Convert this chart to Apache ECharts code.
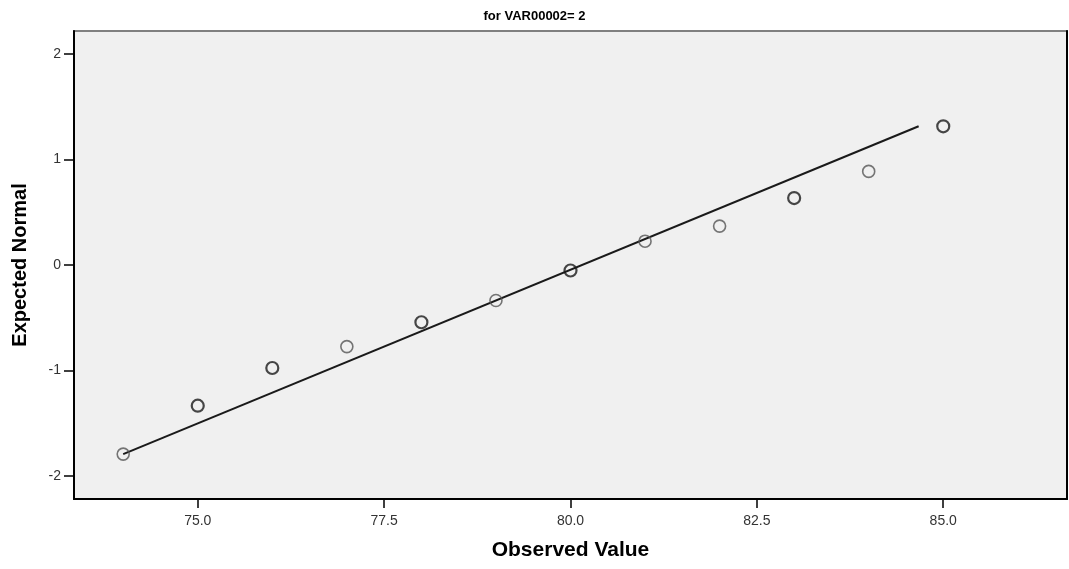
<!DOCTYPE html>
<html>
<head>
<meta charset="utf-8">
<style>html,body{margin:0;padding:0;background:#fff}#c{width:1069px;height:569px}</style>
<script src="https://cdn.jsdelivr.net/npm/echarts@6/dist/echarts.min.js"></script>
</head>
<body>
<div id="c"></div>
<script>
const titleText = "for VAR00002= 2";
const xAxisName = "Observed Value";
const yAxisName = "Expected Normal";
const observed = [74, 75, 76, 77, 78, 79, 80, 81, 82, 83, 84, 85];
const expectedNormal = [-1.794, -1.335, -0.977, -0.774, -0.543, -0.337, -0.052, 0.226, 0.369, 0.635, 0.888, 1.316];
const caseCounts = [1, 2, 2, 1, 2, 1, 2, 1, 1, 2, 1, 2];
const refLineX = [74, 84.67];
const refLineY = [-1.794, 1.316];
const xTicks = [75, 77.5, 80, 82.5, 85];
const yTicks = [-2, -1, 0, 1, 2];

const pts = observed.map((x, i) => ({
  value: [x, expectedNormal[i]],
  itemStyle: caseCounts[i] > 1
    ? { borderColor: '#1a1a1a', borderWidth: 2.2 }
    : { borderColor: '#555', borderWidth: 1.6 }
}));
const line = refLineX.map((x, i) => [x, refLineY[i]]);

const chart = echarts.init(document.getElementById('c'), null, { renderer: 'canvas' });
const font = '"Liberation Sans", Arial, sans-serif';
const narrow = '"Liberation Sans Narrow", "Liberation Sans", Arial, sans-serif';
chart.setOption({
  animation: false,
  backgroundColor: '#ffffff',
  title: {
    text: titleText, left: 'center', top: 5,
    textStyle: { fontFamily: font, fontSize: 13, fontWeight: 'bold', color: '#000' }
  },
  grid: {
    left: 74, right: 2, top: 31, bottom: 70, show: true,
    backgroundColor: '#f0f0f0', borderColor: '#808080', borderWidth: 2
  },
  xAxis: {
    type: 'value', min: 73.34, max: 86.66,
    name: xAxisName, nameLocation: 'middle', nameGap: 41,
    nameTextStyle: { fontFamily: font, fontSize: 21, fontWeight: 'bold', color: '#000' },
    axisLine: { onZero: false, lineStyle: { color: '#000', width: 2 } },
    axisTick: { show: true, length: 9, customValues: xTicks, lineStyle: { color: '#000', width: 1.5 } },
    axisLabel: { customValues: xTicks, formatter: v => v.toFixed(1), fontFamily: narrow, fontSize: 14, color: '#333', margin: 15 },
    splitLine: { show: false }
  },
  yAxis: [
    {
      type: 'value', min: -2.22, max: 2.22,
      name: yAxisName, nameLocation: 'middle', nameGap: 44,
      nameTextStyle: { fontFamily: font, fontSize: 20, fontWeight: 'bold', color: '#000' },
      axisLine: { onZero: false, lineStyle: { color: '#000', width: 2 } },
      axisTick: { show: true, length: 10, customValues: yTicks, lineStyle: { color: '#000', width: 1.5 } },
      axisLabel: { customValues: yTicks, formatter: v => String(v), fontFamily: narrow, fontSize: 14, color: '#333', margin: 13 },
      splitLine: { show: false }
    },
    {
      type: 'value', position: 'right', min: -2.22, max: 2.22,
      axisLine: { show: true, onZero: false, lineStyle: { color: '#000', width: 2 } },
      axisTick: { show: false }, axisLabel: { show: false }, splitLine: { show: false }
    }
  ],
  series: [
    {
      type: 'line', data: line, symbol: 'none', silent: true,
      lineStyle: { color: '#1a1a1a', width: 2 }, z: 2
    },
    {
      type: 'scatter', data: pts, symbol: 'circle', symbolSize: 12,
      itemStyle: { color: 'rgba(0,0,0,0)' }, z: 3
    }
  ]
});
</script>
</body>
</html>
